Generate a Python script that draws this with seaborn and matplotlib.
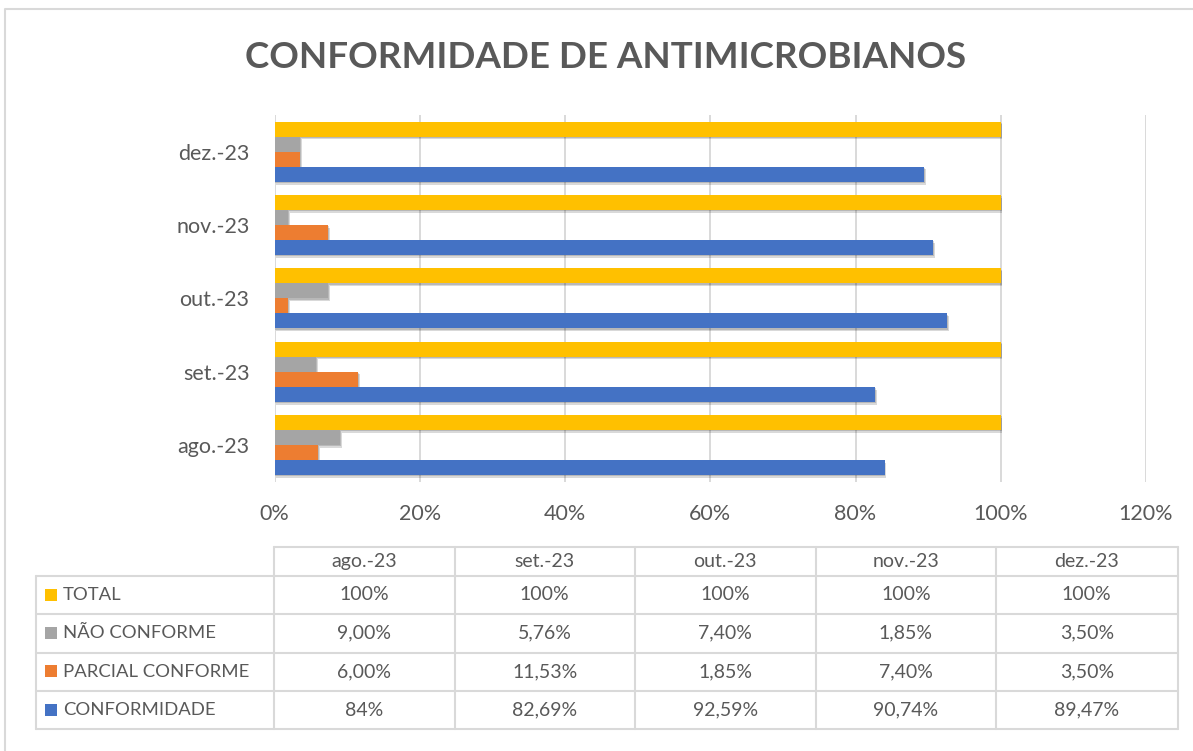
import matplotlib
matplotlib.use("Agg")
import matplotlib.pyplot as plt
import matplotlib.patheffects as pe
from matplotlib.patches import Rectangle
import numpy as np
import pandas as pd
import seaborn as sns

# ---- data -------------------------------------------------------------
meses = ["ago.-23", "set.-23", "out.-23", "nov.-23", "dez.-23"]
series = ["TOTAL", "NÃO CONFORME", "PARCIAL CONFORME", "CONFORMIDADE"]
total = [100, 100, 100, 100, 100]
nao_conforme = [9.00, 5.76, 7.40, 1.85, 3.50]
parcial_conforme = [6.00, 11.53, 1.85, 7.40, 3.50]
conformidade = [84, 82.69, 92.59, 90.74, 89.47]
x_ticks = [0, 20, 40, 60, 80, 100, 120]

valores = {
    "TOTAL": total,
    "NÃO CONFORME": nao_conforme,
    "PARCIAL CONFORME": parcial_conforme,
    "CONFORMIDADE": conformidade,
}
# whole numbers are shown without decimals in these rows
sem_decimais = {"TOTAL": True, "NÃO CONFORME": False,
                "PARCIAL CONFORME": False, "CONFORMIDADE": True}
cores = {"TOTAL": "#FFC000", "NÃO CONFORME": "#A5A5A5",
         "PARCIAL CONFORME": "#ED7D31", "CONFORMIDADE": "#4472C4"}

df = pd.DataFrame(
    [(m, s, v) for s in series for m, v in zip(meses, valores[s])],
    columns=["mes", "serie", "valor"],
)

# ---- styling ----------------------------------------------------------
sns.set_theme(style="white")
FONT = ["Lato", "DejaVu Sans"]
plt.rcParams["font.family"] = FONT
TXT = "#595959"
GRID = "#D9D9D9"

W, H = 1193, 751
fig = plt.figure(figsize=(W / 100, H / 100), dpi=100)

# plot area (pixel box converted to figure fractions)
x0, x1, y0, y1 = 274.5, 1146, 115, 481.7
ax = fig.add_axes([x0 / W, 1 - y1 / H, (x1 - x0) / W, (y1 - y0) / H])

sns.barplot(
    data=df, x="valor", y="mes", hue="serie",
    order=meses[::-1], hue_order=series, palette=cores,
    orient="h", width=0.82, saturation=1, legend=False,
    linewidth=0, ax=ax,
)
for p in ax.patches:
    p.set_path_effects([
        pe.SimplePatchShadow(offset=(1.2, -2.0), shadow_rgbFace="#000000", alpha=0.15),
        pe.SimplePatchShadow(offset=(0.6, -1.0), shadow_rgbFace="#000000", alpha=0.15),
        pe.Normal(),
    ])

ax.set_xlim(0, 120)
ax.set_xticks(x_ticks)
ax.set_xticklabels([f"{t}%" for t in x_ticks])
ax.grid(axis="x", color=GRID, linewidth=1.4)
ax.grid(axis="y", visible=False)
ax.set_axisbelow(True)
for s in ax.spines.values():
    s.set_visible(False)
ax.set_xlabel("")
ax.set_ylabel("")
ax.tick_params(axis="x", length=0, pad=16, labelsize=15.5, labelcolor=TXT)
ax.tick_params(axis="y", length=0, pad=18, labelsize=15.5, labelcolor=TXT)

# ---- title ------------------------------------------------------------
fig.text(606 / W, 1 - 57 / H, "CONFORMIDADE DE ANTIMICROBIANOS",
         ha="center", va="center", fontsize=26.5, fontweight="bold",
         color=TXT, family=FONT)

# ---- data table -------------------------------------------------------
tab = fig.add_axes([0, 0, 1, 1])
tab.set_xlim(0, W)
tab.set_ylim(H, 0)
tab.axis("off")

# outer frame of the chart
tab.plot([5, 5, W + 5], [H + 5, 9, 9], color=GRID, lw=1.5)

col_x = [35.6, 273.6, 454.6, 634.8, 815.6, 996.0, 1177.5]
row_y = [547, 576, 614, 652.5, 691, 729]

# horizontal rules
tab.plot([col_x[1], col_x[-1]], [row_y[0]] * 2, color=GRID, lw=1.5)
for y in row_y[1:]:
    tab.plot([col_x[0], col_x[-1]], [y, y], color=GRID, lw=1.5)
# vertical rules
tab.plot([col_x[0]] * 2, [row_y[1], row_y[-1]], color=GRID, lw=1.5)
for x in col_x[1:]:
    tab.plot([x, x], [row_y[0], row_y[-1]], color=GRID, lw=1.5)

def fmt(v, inteiro):
    if inteiro and float(v).is_integer():
        return f"{int(v)}%"
    return f"{v:.2f}".replace(".", ",") + "%"

# header
for j, m in enumerate(meses):
    cx = (col_x[j + 1] + col_x[j + 2]) / 2
    tab.text(cx, (row_y[0] + row_y[1]) / 2, m, ha="center", va="center",
             fontsize=14, color=TXT)

# rows
for i, s in enumerate(series):
    cy = (row_y[i + 1] + row_y[i + 2]) / 2
    tab.add_patch(Rectangle((45, cy - 6.5), 12, 12, color=cores[s], lw=0))
    tab.text(63, cy, s, ha="left", va="center", fontsize=13.3, color=TXT)
    for j, v in enumerate(valores[s]):
        cx = (col_x[j + 1] + col_x[j + 2]) / 2
        tab.text(cx, cy, fmt(v, sem_decimais[s]), ha="center", va="center",
                 fontsize=14, color=TXT)

fig.savefig("out.png", dpi=100, facecolor="white")
